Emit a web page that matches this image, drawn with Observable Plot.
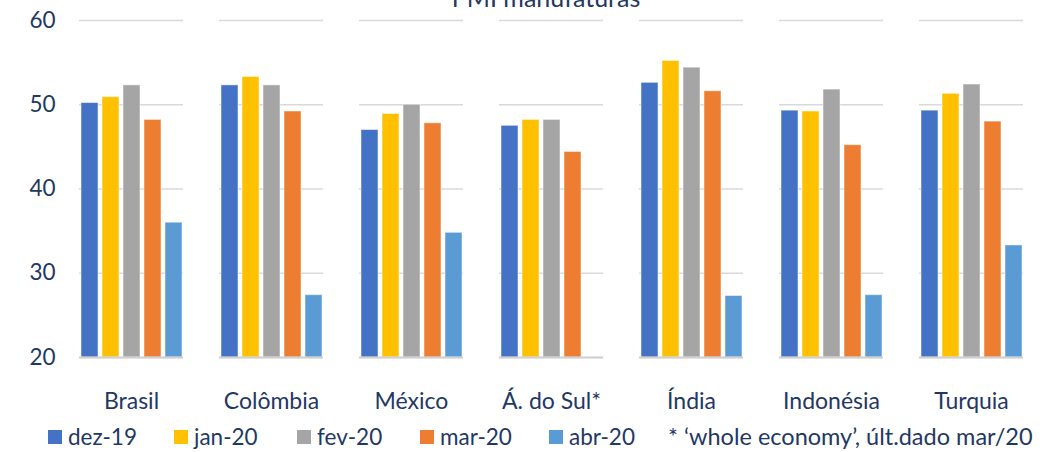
<!DOCTYPE html>
<html>
<head>
<meta charset="utf-8">
<script src="https://cdn.jsdelivr.net/npm/d3@7"></script>
<script src="https://cdn.jsdelivr.net/npm/@observablehq/plot@0.6"></script>
<style>
  html, body { margin: 0; padding: 0; background: #fff; }
  body { width: 1040px; height: 452px; overflow: hidden; position: relative; font-family: Lato, "Open Sans", sans-serif; color: #1f3864; }
  #title { position: absolute; left: 0; width: 1092px; text-align: center; top: -15px; font-size: 25px; line-height: 25px; white-space: nowrap; }
  #legend { position: relative; height: 32px; font-size: 22.5px; }
  .item { position: absolute; top: 0; height: 32px; display: flex; align-items: center; white-space: nowrap; }
  .sw { width: 14px; height: 14px; margin-right: 6px; margin-top: 2px; }
</style>
</head>
<body>
<div id="chart"></div>
<div id="legend"></div>
<div id="title">PMI manufaturas</div>
<script>
const countries = ["Brasil", "Colômbia", "México", "Á. do Sul*", "Índia", "Indonésia", "Turquia"];
const seriesNames = ["dez-19", "jan-20", "fev-20", "mar-20", "abr-20"];
const colors = ["#4472C4", "#FFC000", "#A5A5A5", "#ED7D31", "#5B9BD5"];
const dez19 = [50.2, 52.3, 47.0, 47.5, 52.6, 49.3, 49.3];
const jan20 = [50.9, 53.3, 48.9, 48.2, 55.2, 49.2, 51.3];
const fev20 = [52.3, 52.3, 50.0, 48.2, 54.4, 51.8, 52.4];
const mar20 = [48.2, 49.2, 47.8, 44.4, 51.6, 45.2, 48.0];
const abr20 = [36.0, 27.4, 34.8, null, 27.3, 27.4, 33.3];
const yTicks = [20, 30, 40, 50, 60];
const footnote = "* \u2018whole economy\u2019, últ.dado mar/20";

const seriesValues = [dez19, jan20, fev20, mar20, abr20];
const data = [];
countries.forEach((c, i) => {
  seriesNames.forEach((s, j) => {
    const v = seriesValues[j][i];
    if (v != null) data.push({country: c, series: s, value: v});
  });
});

const navy = "#1f3864";
const chart = Plot.plot({
  width: 1040,
  height: 420,
  marginTop: 20,
  marginBottom: 63,
  marginLeft: 62,
  marginRight: 0,
  style: {fontFamily: "Lato, 'Open Sans', sans-serif", color: navy, background: "#fff"},
  fx: {domain: countries, paddingInner: 0.257, paddingOuter: 0.121, label: null, axis: null},
  x: {domain: seriesNames, paddingInner: 0.21, paddingOuter: 0, axis: null},
  y: {domain: [20, 60], axis: null},
  color: {domain: seriesNames, range: colors},
  marks: [
    Plot.gridY(yTicks, {stroke: "#d9d9d9", strokeOpacity: 1, strokeWidth: 1.3}),
    Plot.axisY(yTicks, {tickSize: 0, tickPadding: 24, fontSize: 22.5, fill: navy, label: null}),
    Plot.barY(data, {fx: "country", x: "series", y1: 20, y2: "value", fill: "series", stroke: "#fff", strokeWidth: 1, strokeOpacity: 0.5}),
    Plot.ruleY([20], {stroke: "#d0d0d0", strokeWidth: 2}),
    Plot.axisFx({anchor: "bottom", tickSize: 0, tickPadding: 35, fontSize: 23, fill: navy, label: null})
  ]
});
document.getElementById("chart").appendChild(chart);

const legend = document.getElementById("legend");
const lefts = [48, 174, 297, 420, 549];
seriesNames.forEach((s, j) => {
  const it = document.createElement("div");
  it.className = "item";
  it.style.left = lefts[j] + "px";
  const sw = document.createElement("span");
  sw.className = "sw";
  sw.style.background = colors[j];
  const t = document.createElement("span");
  t.textContent = s;
  it.appendChild(sw);
  it.appendChild(t);
  legend.appendChild(it);
});
const fn = document.createElement("div");
fn.className = "item";
fn.style.left = "668px";
fn.style.fontSize = "23.5px";
fn.textContent = footnote;
legend.appendChild(fn);
</script>
</body>
</html>
